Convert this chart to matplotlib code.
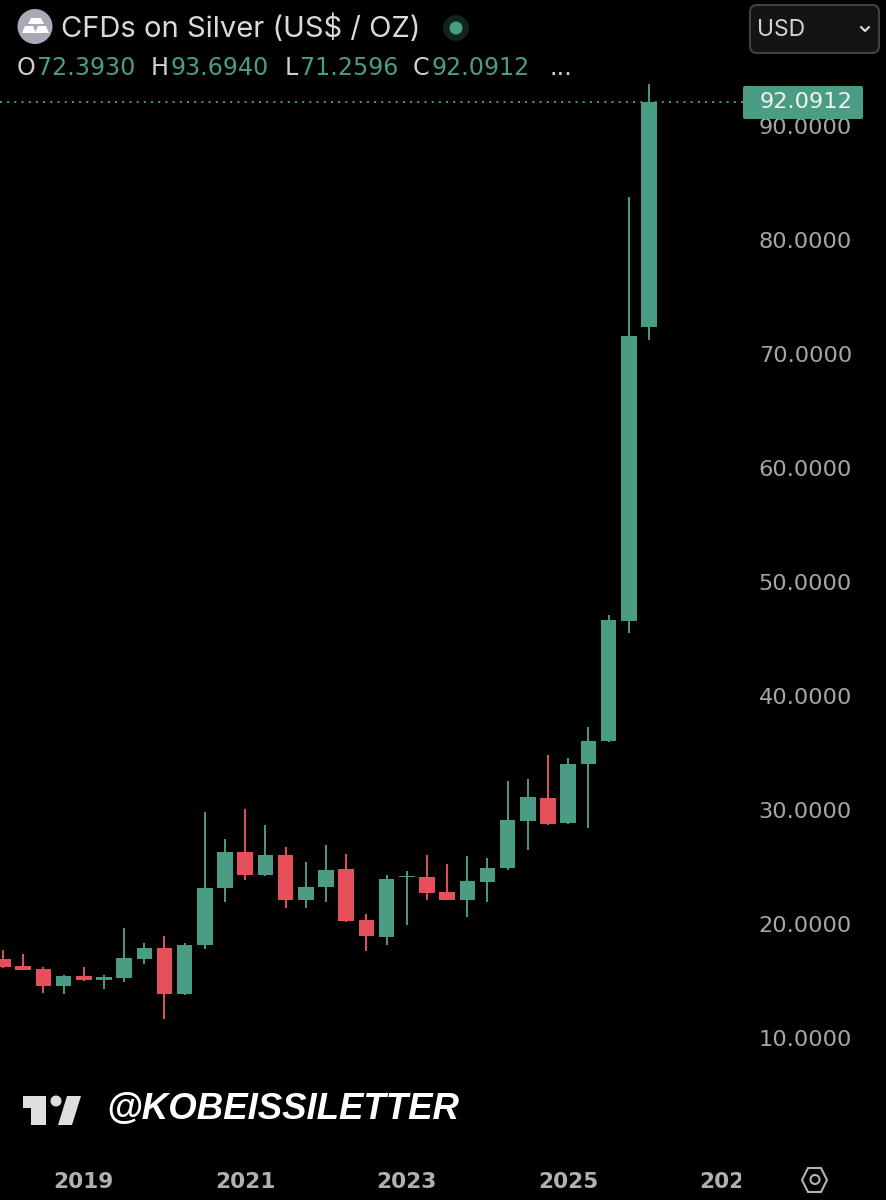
import matplotlib
matplotlib.use('Agg')
import matplotlib.pyplot as plt
from matplotlib.patches import Circle, FancyBboxPatch, Polygon
from matplotlib.transforms import Bbox, TransformedBbox

# quarterly candles, Q1 2018 to Q1 2026
opens = [16.90, 16.32, 16.05, 14.59, 15.46, 15.06, 15.24, 16.93, 17.87, 13.86, 18.13,
         23.13, 26.32, 24.33, 26.08, 22.13, 23.22, 24.82, 20.32, 18.89, 24.10, 24.12,
         22.78, 22.11, 23.71, 24.91, 29.06, 31.08, 28.83, 34.01, 36.05, 46.58, 72.3930]
highs = [17.72, 17.37, 16.25, 15.50, 16.23, 15.55, 19.62, 18.36, 18.95, 18.36, 29.80,
         27.43, 30.09, 28.71, 26.78, 25.41, 26.93, 26.17, 20.90, 24.27, 24.65, 26.05,
         25.24, 25.94, 25.76, 32.54, 32.69, 34.82, 34.56, 37.28, 47.10, 83.73, 93.6940]
lows = [16.17, 15.94, 13.97, 13.86, 15.00, 14.30, 14.91, 16.52, 11.67, 13.80, 17.80,
        21.96, 23.83, 24.21, 21.43, 21.43, 21.93, 20.20, 17.63, 18.13, 19.91, 22.11,
        22.10, 20.64, 21.93, 24.76, 26.46, 28.71, 28.80, 28.39, 35.96, 45.50, 71.2596]
closes = [16.25, 15.99, 14.59, 15.46, 15.06, 15.32, 17.02, 17.87, 13.86, 18.18, 23.18,
          26.32, 24.33, 26.08, 22.13, 23.27, 24.74, 20.24, 18.97, 23.95, 24.20, 22.72,
          22.11, 23.80, 24.89, 29.12, 31.17, 28.80, 34.06, 36.08, 46.67, 71.58, 92.0912]

price_ticks = [10, 20, 30, 40, 50, 60, 70, 80, 90]
year_positions = [4, 12, 20, 28, 36]
year_labels = ['2019', '2021', '2023', '2025', '2027']
last_price = 92.0912

ohlc_names = ['O', 'H', 'L', 'C']
ohlc_values = ['72.3930', '93.6940', '71.2596', '92.0912']
ohlc_x = [17, 151, 285, 413]

GREEN = '#4A9C84'
RED = '#E6505A'
WIDTH, HEIGHT = 886, 1200
FONT = 'Inter'
DIGITS = 'DejaVu Sans'  # wide tabular figures, close to the app's spaced numerals

# pixel calibration of the reference: candle 0 at x=3, 20.19 px per candle,
# price 10 at y=1038, 11.4 px per dollar
px_per_bar = 20.1875
px_per_usd = 11.4

fig = plt.figure(figsize=(WIDTH / 100, HEIGHT / 100), dpi=100, facecolor='black')
ax = fig.add_axes([0, 0, 1, 1], facecolor='black')
ax.set_xlim(-3 / px_per_bar, (WIDTH - 3) / px_per_bar)
ax.set_ylim(10 - (HEIGHT - 1038) / px_per_usd, 10 + 1038 / px_per_usd)

for i in range(len(opens)):
    color = GREEN if closes[i] >= opens[i] else RED
    ax.vlines(i, lows[i], highs[i], color=color, linewidth=1.4, zorder=3)
    ax.bar(i, abs(closes[i] - opens[i]), bottom=min(opens[i], closes[i]), width=0.77,
           color=color, linewidth=0, zorder=4)

ax.axhline(last_price, xmin=0, xmax=743 / WIDTH, color=GREEN, linewidth=1.4,
           linestyle=(0, (1, 2.7)), zorder=2)

for side in ax.spines.values():
    side.set_visible(False)

ax.yaxis.tick_right()
ax.set_yticks(price_ticks, [f'{p:.4f}' for p in price_ticks])
ax.tick_params(axis='y', length=0, pad=-24.5, labelcolor='#A6A6A6', labelsize=16.2)
for label in ax.get_yticklabels():
    label.set_horizontalalignment('right')
    label.set_family(DIGITS)

ax.set_xticks(year_positions, year_labels)
ax.tick_params(axis='x', length=0, pad=-20.5, labelcolor='#B0B0B0', labelsize=15.6)
clip = TransformedBbox(Bbox([[0, 0], [741 / WIDTH, 1]]), fig.transFigure)
for label in ax.get_xticklabels():
    label.set_family('DejaVu Sans')
    label.set_fontweight('bold')
    label.set_clip_on(True)
    label.set_clip_box(clip)

# overlay in pixel coordinates for the app's header and badges
ui = fig.add_axes([0, 0, 1, 1], facecolor='none')
ui.set_xlim(0, WIDTH)
ui.set_ylim(HEIGHT, 0)
ui.axis('off')

# silver icon
ui.add_patch(Circle((35, 26.5), 17.5, color='#A9A8B5', linewidth=0))
ui.add_patch(Polygon([(31, 18), (41, 18), (44, 24), (28, 24)], color='white', linewidth=0))
ui.add_patch(Polygon([(25, 26), (33, 26), (36, 33), (22, 33)], color='white', linewidth=0))
ui.add_patch(Polygon([(38, 26), (46, 26), (49, 33), (35, 33)], color='white', linewidth=0))

ui.text(61, 29, 'CFDs on Silver (US$ / OZ)', color='#DADADA', fontsize=21, family=FONT,
        va='center', ha='left')

ui.add_patch(Circle((456, 28), 13, color='#10241E', linewidth=0))
ui.add_patch(Circle((456, 28), 6.5, color=GREEN, linewidth=0))

for name, value, x in zip(ohlc_names, ohlc_values, ohlc_x):
    t = ui.text(x, 68, name, color='#D0D0D0', fontsize=17.1, family=DIGITS, va='center', ha='left')
    ui.annotate(value, xy=(1, 0.5), xycoords=t, xytext=(1, 0), textcoords='offset points',
                color=GREEN, fontsize=17.1, family=DIGITS, va='center', ha='left')
ui.text(550, 68, '...', color='#D0D0D0', fontsize=17.1, family=DIGITS, va='center', ha='left')

# currency selector
ui.add_patch(FancyBboxPatch((750, 5), 129, 48, boxstyle='round,pad=0,rounding_size=7',
                            facecolor='#141414', edgecolor='#454545', linewidth=1.4))
ui.text(757, 30, 'USD', color='#D4D4D4', fontsize=16.5, family=FONT, va='center', ha='left')
ui.plot([861, 865, 869], [27, 31, 27], color='#D4D4D4', linewidth=1.6, solid_capstyle='round')

# last price badge sits on top of the 90 label
ui.add_patch(FancyBboxPatch((743, 86), 120, 33, boxstyle='round,pad=0,rounding_size=2',
                            facecolor=GREEN, edgecolor='none'))
ui.text(806, 102.5, '92.0912', color='#F0F5F3', fontsize=16.2, family=DIGITS,
        va='center', ha='center')

# TradingView mark and handle
ui.add_patch(Polygon([(23, 1096), (46, 1096), (46, 1125), (31, 1125), (31, 1108), (23, 1108)],
                     color='#DEDEDE', linewidth=0))
ui.add_patch(Circle((56, 1101), 5.5, color='#DEDEDE', linewidth=0))
ui.add_patch(Polygon([(67, 1096), (81, 1096), (72, 1125), (58, 1125)], color='#DEDEDE', linewidth=0))
ui.text(106, 1110, '@KOBEISSILETTER', color='white', fontsize=26.4, family='Liberation Sans',
        fontweight='bold', fontstyle='italic', va='center', ha='left')

# settings hexagon
ui.add_patch(Polygon([(802, 1180), (808, 1168), (821, 1168), (827, 1180), (821, 1192), (808, 1192)],
                     facecolor='none', edgecolor='#B4B4B4', linewidth=1.5))
ui.add_patch(Circle((815, 1179.5), 4.5, facecolor='none', edgecolor='#B4B4B4', linewidth=1.5))

fig.savefig('out.png', dpi=100, facecolor='black')
